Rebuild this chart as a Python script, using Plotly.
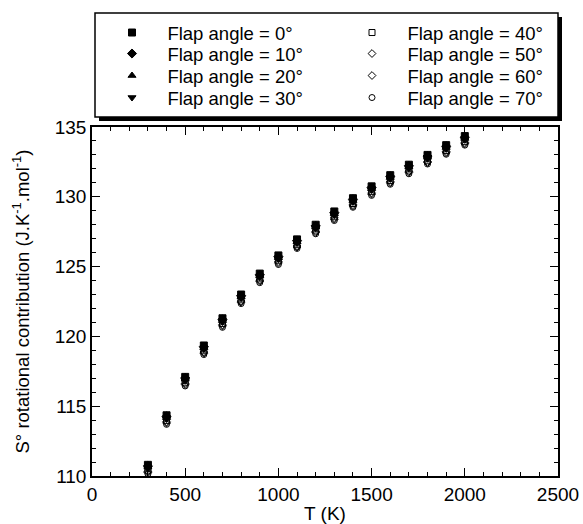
import plotly.graph_objects as go

# Temperatures (K)
temperature = [300, 400, 500, 600, 700, 800, 900, 1000, 1100, 1200,
               1300, 1400, 1500, 1600, 1700, 1800, 1900, 2000]

# Rotational contribution to standard entropy (J.K-1.mol-1) per flap angle
s_flap_0 = [110.80, 114.35, 117.10, 119.35, 121.30, 123.00, 124.50, 125.80, 126.95,
            128.00, 128.95, 129.90, 130.75, 131.55, 132.30, 133.00, 133.70, 134.35]
s_flap_10 = [110.72, 114.27, 117.02, 119.27, 121.22, 122.92, 124.42, 125.72, 126.87,
             127.92, 128.87, 129.82, 130.67, 131.47, 132.22, 132.92, 133.62, 134.27]
s_flap_20 = [110.63, 114.18, 116.93, 119.18, 121.13, 122.83, 124.33, 125.63, 126.78,
             127.83, 128.78, 129.73, 130.58, 131.38, 132.13, 132.83, 133.53, 134.18]
s_flap_30 = [110.53, 114.08, 116.83, 119.08, 121.03, 122.73, 124.23, 125.53, 126.68,
             127.73, 128.68, 129.63, 130.48, 131.28, 132.03, 132.73, 133.43, 134.08]
s_flap_40 = [110.42, 113.97, 116.72, 118.97, 120.92, 122.62, 124.12, 125.42, 126.57,
             127.62, 128.57, 129.52, 130.37, 131.17, 131.92, 132.62, 133.32, 133.97]
s_flap_50 = [110.33, 113.88, 116.63, 118.88, 120.83, 122.53, 124.03, 125.33, 126.48,
             127.53, 128.48, 129.43, 130.28, 131.08, 131.83, 132.53, 133.23, 133.88]
s_flap_60 = [110.25, 113.80, 116.55, 118.80, 120.75, 122.45, 123.95, 125.25, 126.40,
             127.45, 128.40, 129.35, 130.20, 131.00, 131.75, 132.45, 133.15, 133.80]
s_flap_70 = [110.15, 113.70, 116.45, 118.70, 120.65, 122.35, 123.85, 125.15, 126.30,
             127.35, 128.30, 129.25, 130.10, 130.90, 131.65, 132.35, 133.05, 133.70]

series_names = ["Flap angle = 0°", "Flap angle = 10°", "Flap angle = 20°", "Flap angle = 30°",
                "Flap angle = 40°", "Flap angle = 50°", "Flap angle = 60°", "Flap angle = 70°"]
series_values = [s_flap_0, s_flap_10, s_flap_20, s_flap_30,
                 s_flap_40, s_flap_50, s_flap_60, s_flap_70]
symbols = ["square", "diamond", "triangle-up", "triangle-down",
           "square-open", "diamond-open", "diamond-open", "circle-open"]
sizes = [7, 7, 7, 7, 6, 6, 6, 6]

W, H = 583, 524
ML, MR, MT, MB = 92, 25, 127, 48
PW, PH = W - ML - MR, H - MT - MB


def px_x(p):
    return (p - ML) / PW


def px_y(p):
    return (H - MB - p) / PH


FONT = "Liberation Sans, Arial, Helvetica, sans-serif"
KEY_GAP = "\u00a0\u00a0\u00a0"  # extra room between key symbol and its label

# legend grid: two columns of four rows (pixel positions of each key)
legend_cols = [112, 352]
legend_rows = [33, 54, 76, 98]

fig = go.Figure()
legends = {}
# draw open markers first so the filled ones sit on top
for i in reversed(range(len(series_values))):
    key = "legend" if i == 0 else f"legend{i + 1}"
    fig.add_trace(go.Scatter(
        x=temperature, y=series_values[i], mode="markers",
        name=KEY_GAP + series_names[i],
        legend=key,
        marker=dict(symbol=symbols[i], size=sizes[i], color="black",
                    line=dict(color="black", width=1)),
    ))
    col, row = divmod(i, 4)
    legends[key] = dict(
        x=px_x(legend_cols[col]), y=px_y(legend_rows[row]),
        xanchor="left", yanchor="middle", orientation="v",
        bgcolor="rgba(0,0,0,0)", borderwidth=0, itemwidth=30,
        font=dict(family=FONT, size=18.5, color="black"),
    )

axis_common = dict(
    showgrid=False, zeroline=False, showline=True, linecolor="black", linewidth=1.5,
    mirror="ticks", ticks="inside", ticklen=8, tickwidth=1.3, tickcolor="black",
    tickfont=dict(family=FONT, size=19, color="black"), automargin=False,
)

fig.update_xaxes(
    range=[0, 2500], dtick=500, tick0=0,
    minor=dict(dtick=100, ticks="inside", ticklen=4, tickwidth=1, tickcolor="black"),
    title=dict(text="T (K)", font=dict(family=FONT, size=19, color="black"), standoff=6),
    **axis_common,
)
fig.update_yaxes(
    range=[110, 135], dtick=5, tick0=110,
    minor=dict(dtick=1, ticks="inside", ticklen=4, tickwidth=1, tickcolor="black"),
    title=dict(text="S° rotational contribution (J.K<sup>-1</sup>.mol<sup>-1</sup>)",
               font=dict(family=FONT, size=18.5, color="black"), standoff=20),
    **axis_common,
)

# framed legend box with drop shadow
fig.add_shape(type="rect", xref="paper", yref="paper",
              x0=px_x(99), x1=px_x(562), y0=px_y(121), y1=px_y(17),
              fillcolor="black", line=dict(width=0), layer="above")
fig.add_shape(type="rect", xref="paper", yref="paper",
              x0=px_x(95), x1=px_x(558), y0=px_y(117), y1=px_y(13),
              fillcolor="white", line=dict(color="black", width=1.5), layer="above")

fig.update_layout(
    width=W, height=H,
    margin=dict(l=ML, r=MR, t=MT, b=MB),
    paper_bgcolor="white", plot_bgcolor="white",
    font=dict(family=FONT, color="black"),
    showlegend=True,
    **legends,
)

fig.write_html("out.html")
